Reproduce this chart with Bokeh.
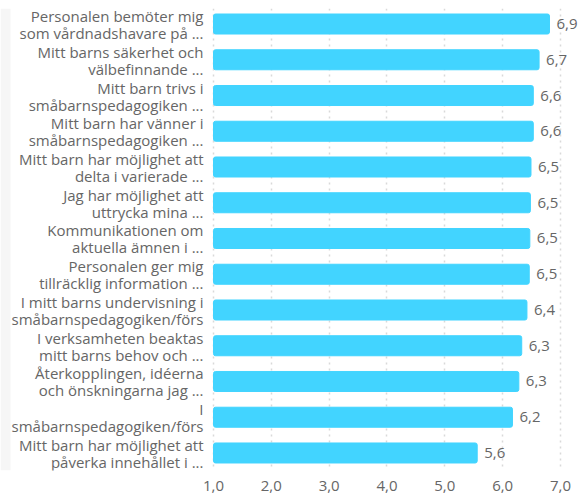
from bokeh.plotting import figure
from bokeh.models import ColumnDataSource, Range1d, FixedTicker, BoxAnnotation
from bokeh.embed import file_html
from bokeh.resources import INLINE
from bokeh.core.properties import value

categories = [
    "Personalen bemöter mig\nsom vårdnadshavare på ...",
    "Mitt barns säkerhet och\nvälbefinnande ...",
    "Mitt barn trivs i\nsmåbarnspedagogiken ...",
    "Mitt barn har vänner i\nsmåbarnspedagogiken ...",
    "Mitt barn har möjlighet att\ndelta i varierade ...",
    "Jag har möjlighet att\nuttrycka mina ...",
    "Kommunikationen om\naktuella ämnen i ...",
    "Personalen ger mig\ntillräcklig information ...",
    "I mitt barns undervisning i\nsmåbarnspedagogiken/förs",
    "I verksamheten beaktas\nmitt barns behov och ...",
    "Återkopplingen, idéerna\noch önskningarna jag ...",
    "I\nsmåbarnspedagogiken/förs",
    "Mitt barn har möjlighet att\npåverka innehållet i ...",
]
values = [6.81, 6.63, 6.53, 6.53, 6.49, 6.48, 6.47, 6.46, 6.42, 6.33, 6.28, 6.17, 5.56]
value_labels = ["6,9", "6,7", "6,6", "6,6", "6,5", "6,5", "6,5", "6,5", "6,4", "6,3", "6,3", "6,2", "5,6"]
x_ticks = [1, 2, 3, 4, 5, 6, 7]
x_tick_labels = ["1,0", "2,0", "3,0", "4,0", "5,0", "6,0", "7,0"]

FONT = "Open Sans"
GREY = "#666666"
FS = "15px"

# layout (pixels)
FRAME_W, AXIS_LEFT_PX, PX_PER_UNIT = 579, 213, 57.83
x0 = x_ticks[0] - AXIS_LEFT_PX / PX_PER_UNIT
x1 = x0 + FRAME_W / PX_PER_UNIT

idx = list(range(len(categories)))
line1 = [c.split("\n")[0] for c in categories]
line2 = [c.split("\n")[1] for c in categories]
src = ColumnDataSource(dict(y=idx, v=values, lbl=value_labels, l1=line1, l2=line2,
                            base=[x_ticks[0]] * len(idx)))

p = figure(
    output_backend="svg", toolbar_location=None,
    frame_width=FRAME_W, frame_height=462,
    min_border_left=0, min_border_right=0, min_border_top=8, min_border_bottom=25,
    x_range=Range1d(x0, x1), y_range=Range1d(12.49, -0.434),
)
p.outline_line_color = None

p.add_layout(BoxAnnotation(left=0, right=10, left_units="screen", right_units="screen",
                           fill_color="#f6f6f6", fill_alpha=1, line_color=None,
                           level="underlay"))

p.hbar(y="y", left="base", right="v", height=0.56, source=src,
       fill_color="#42d4ff", line_color="#42d4ff", line_width=1, border_radius=2)
p.text(x="v", y="y", text="lbl", source=src, x_offset=7,
       text_font=value(FONT), text_font_size=FS, text_color=GREY,
       text_baseline="middle", text_align="left")
for col, dy in (("l1", -8), ("l2", 9)):
    p.text(x="base", y="y", text=col, source=src, x_offset=-10, y_offset=dy,
           text_font=value(FONT), text_font_size=FS, text_color=GREY,
           text_baseline="middle", text_align="right")

p.xaxis.ticker = FixedTicker(ticks=x_ticks)
p.xaxis.major_label_overrides = {t: l for t, l in zip(x_ticks, x_tick_labels)}
p.xaxis.axis_line_color = None
p.xaxis.major_tick_line_color = None
p.xaxis.minor_tick_line_color = None
p.xaxis.major_label_standoff = 4
p.xaxis.major_label_text_font = FONT
p.xaxis.major_label_text_font_size = FS
p.xaxis.major_label_text_color = GREY

p.yaxis.visible = False

p.ygrid.grid_line_color = None
p.xgrid.ticker = FixedTicker(ticks=x_ticks)
p.xgrid.grid_line_color = "#d9d9d9"
p.xgrid.grid_line_dash = "2 4"
p.xgrid.grid_line_width = 1.5

open("out.html", "w").write(file_html(p, INLINE))
